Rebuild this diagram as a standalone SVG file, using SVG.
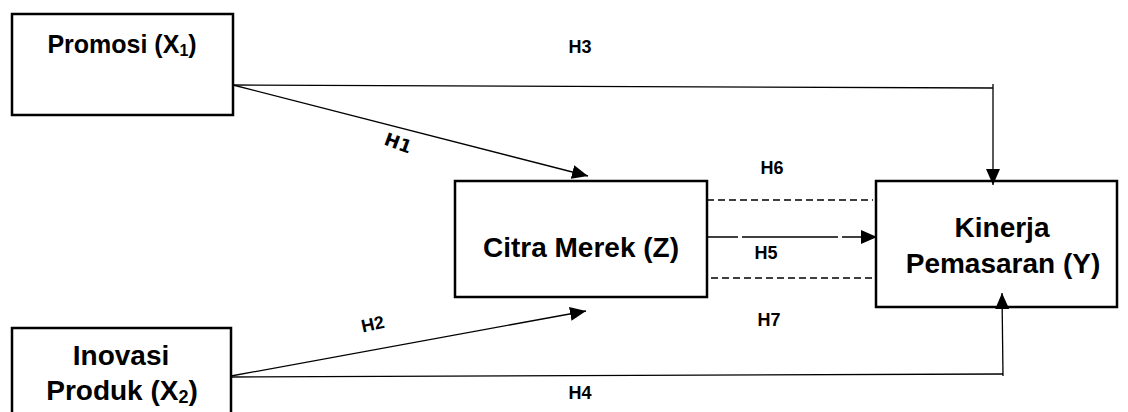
<svg xmlns="http://www.w3.org/2000/svg" width="1128" height="412" viewBox="0 0 1128 412">
  <style>
    .box { fill: #ffffff; stroke: #000000; stroke-width: 2.5; }
    .node { font-family: "Liberation Sans", Arial, sans-serif; font-weight: bold; font-size: 28px; fill: #000000; text-anchor: middle; }
    .lbl { font-family: "Liberation Sans", Arial, sans-serif; font-weight: bold; font-size: 18px; fill: #000000; text-anchor: middle; }
    .lbl-dv { font-family: "DejaVu Sans", sans-serif; font-weight: bold; font-size: 18px; fill: #000000; text-anchor: middle; }
    .link { fill: none; stroke: #000000; stroke-width: 1.3; }
    .dash { fill: none; stroke: #000000; stroke-width: 1.5; stroke-dasharray: 7 4; }
  </style>
  <defs>
    <marker id="arrow" viewBox="0 0 16 14" refX="16" refY="7" markerWidth="16" markerHeight="14" markerUnits="userSpaceOnUse" orient="auto">
      <path d="M0,0 L16,7 L0,14 Z" fill="#000000"/>
    </marker>
  </defs>

  <rect width="1128" height="412" fill="#ffffff"/>

  <g id="promosi">
    <rect class="box" x="12" y="14" width="221" height="101"/>
    <text x="122" y="53" class="node" style="font-size:25px">Promosi (X<tspan font-size="16" dy="3">1</tspan><tspan dy="-3">)</tspan></text>
  </g>

  <g id="inovasi">
    <rect class="box" x="12" y="328" width="219" height="100"/>
    <text x="121" y="365" class="node">Inovasi</text>
    <text x="122" y="400" class="node">Produk (X<tspan font-size="18" dy="3">2</tspan><tspan dy="-3">)</tspan></text>
  </g>

  <g id="citra">
    <rect class="box" x="455" y="181" width="252" height="116"/>
    <text x="581" y="257" class="node">Citra Merek (Z)</text>
  </g>

  <g id="kinerja">
    <rect class="box" x="876" y="181" width="241" height="126"/>
    <text x="1002" y="237" class="node">Kinerja</text>
    <text x="1003" y="273" class="node">Pemasaran (Y)</text>
  </g>

  <!-- connectors, drawn over the boxes so the heads sit on the edges -->
  <g id="connectors">
    <!-- H3: Promosi to Kinerja Pemasaran, over the top -->
    <path class="link" d="M233,85 L993,88"/>
    <path class="link" d="M993,84 L993,185" marker-end="url(#arrow)"/>
    <!-- H1: Promosi to Citra Merek -->
    <path class="link" d="M233,85 L588,176" marker-end="url(#arrow)"/>
    <!-- H2: Inovasi Produk to Citra Merek -->
    <path class="link" d="M231,376 L586,311" marker-end="url(#arrow)"/>
    <!-- H4: Inovasi Produk to Kinerja Pemasaran, along the bottom -->
    <path class="link" d="M231,377 L1003,374"/>
    <path class="link" d="M1003,376 L1002,293" marker-end="url(#arrow)"/>
    <!-- H5: Citra Merek to Kinerja Pemasaran -->
    <path class="link" d="M707,237 L877,237" stroke-dasharray="31 4 96 4 150" marker-end="url(#arrow)"/>
    <!-- H6 / H7: dashed mediation paths -->
    <path class="dash" d="M707,200 L873,200"/>
    <path class="dash" d="M711,278 L876,278"/>
  </g>

  <g id="labels">
    <text x="580" y="53" class="lbl">H3</text>
    <text x="0" y="0" class="lbl-dv" transform="translate(396,149) rotate(20)">H1</text>
    <text x="772" y="174" class="lbl">H6</text>
    <text x="766" y="259" class="lbl">H5</text>
    <text x="769" y="326" class="lbl">H7</text>
    <text x="0" y="0" class="lbl" transform="translate(374,330) rotate(-12)">H2</text>
    <text x="580" y="399" class="lbl">H4</text>
  </g>
</svg>
